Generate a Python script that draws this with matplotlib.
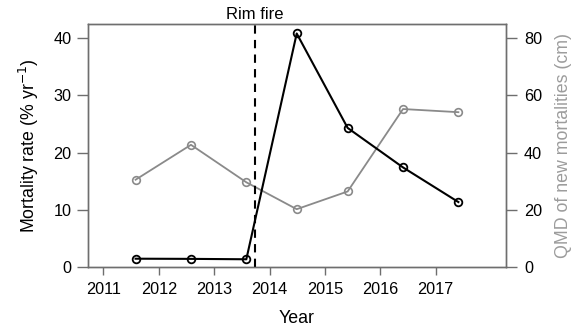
import matplotlib.pyplot as plt

plt.rcParams['font.family'] = ['Liberation Sans', 'DejaVu Sans']

# census mid-points (decimal year)
years = [2011.58, 2012.58, 2013.58, 2014.49, 2015.41, 2016.41, 2017.41]
mortality = [1.45, 1.42, 1.35, 40.8, 24.3, 17.4, 11.35]   # % per year
qmd = [30.5, 42.7, 29.6, 20.2, 26.4, 55.2, 54.1]          # cm
fire_year = 2013.74
xticks = [2011, 2012, 2013, 2014, 2015, 2016, 2017]

box_col = '#6e6e6e'
grey = '#8a8a8a'

fig = plt.figure(figsize=(5.8, 3.34), dpi=100)
ax = fig.add_axes([0.1517, 0.2006, 0.7207, 0.7274])
ax2 = ax.twinx()

ax.set_xlim(2010.72, 2018.27)
ax.set_ylim(0, 42.45)
ax2.set_ylim(0, 84.9)

ax2.plot(years, qmd, color=grey, lw=1.3, marker='o', ms=5.5, mfc='none',
         mec=grey, mew=1.2, zorder=2)
ax.plot(years, mortality, color='black', lw=1.5, marker='o', ms=5.5, mfc='none',
        mec='black', mew=1.3, zorder=3)
ax.set_zorder(ax2.get_zorder() + 1)
ax.patch.set_visible(False)

ax.axvline(fire_year, color='black', lw=1.5, ls=(0, (4, 3)))
ax.text(fire_year, 1.01, 'Rim fire', transform=ax.get_xaxis_transform(),
        ha='center', va='bottom', fontsize=12)

for a in (ax, ax2):
    for s in a.spines.values():
        s.set_color(box_col)
        s.set_linewidth(1.0)

ax.set_xticks(xticks)
ax.set_yticks([0, 10, 20, 30, 40])
ax2.set_yticks([0, 20, 40, 60, 80])
ax.tick_params(axis='x', direction='out', length=6, width=1, color=box_col,
               labelsize=11.7, pad=5)
ax.tick_params(axis='y', direction='out', length=8, width=1, color=box_col,
               labelsize=11.7, pad=4)
ax2.tick_params(axis='y', direction='out', length=8, width=1, color=box_col,
                labelsize=11.7, pad=5)

ax.set_xlabel('Year', fontsize=12.8, labelpad=9)
ax.set_ylabel('Mortality rate (% yr$^{-1}$)', fontsize=12.8, labelpad=9)
ax2.set_ylabel('QMD of new mortalities (cm)', fontsize=12.8, color='#9c9c9c',
               labelpad=9)

fig.savefig('out.png', dpi=100)
